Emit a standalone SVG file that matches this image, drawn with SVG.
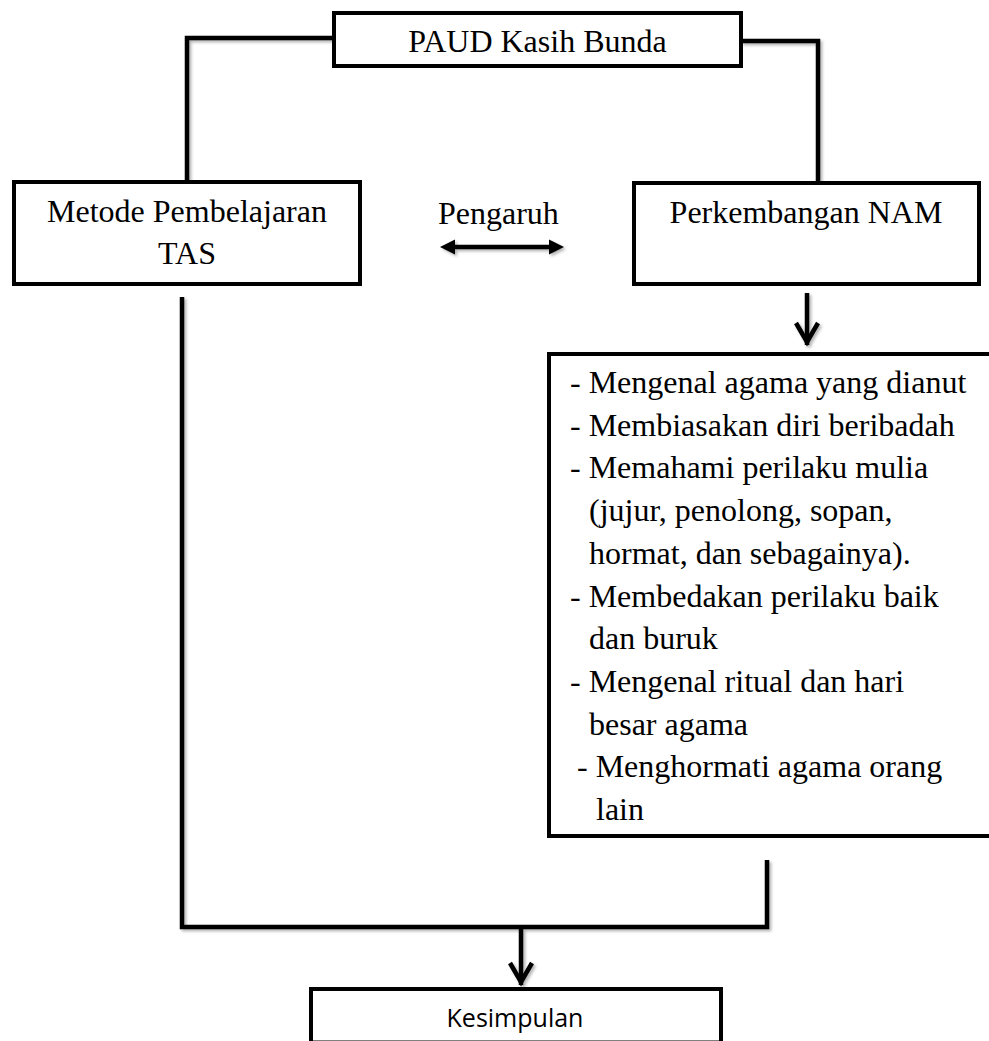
<svg xmlns="http://www.w3.org/2000/svg" width="989" height="1041" viewBox="0 0 989 1041">
<style>
.box{fill:#fff;stroke:#000;stroke-width:4;stroke-linejoin:miter}
.t{font-family:"Liberation Serif","Times New Roman",serif;font-size:32px;fill:#000}
.c{text-anchor:middle}
.s{font-family:"Open Sans","Liberation Sans",sans-serif;font-size:25px;fill:#000;text-anchor:middle}
.ln{fill:none;stroke:#000;stroke-width:4.5;stroke-linejoin:miter;stroke-linecap:butt}
</style>
<defs>
<filter id="sh" x="-10%" y="-10%" width="120%" height="120%">
<feDropShadow dx="2" dy="2" stdDeviation="1.5" flood-color="#000" flood-opacity="0.3"/>
</filter>
<marker id="chev" markerUnits="userSpaceOnUse" viewBox="-30 -15 35 30" refX="0" refY="0" markerWidth="35" markerHeight="30" orient="auto" overflow="visible">
<path d="M-22,-11 L-3,0 L-22,11" fill="none" stroke="#000" stroke-width="4.5"/>
</marker>
<marker id="tri" markerUnits="userSpaceOnUse" viewBox="-5 -10 20 20" refX="0" refY="0" markerWidth="20" markerHeight="20" orient="auto-start-reverse" overflow="visible">
<path d="M-3,-7.5 L12,0 L-3,7.5 Z" fill="#000"/>
</marker>
</defs>
<rect width="989" height="1041" fill="#fff"/>
<g id="connectors" filter="url(#sh)">
<path class="ln" d="M334,38 H187 V182"/>
<path class="ln" d="M741,41 H818 V183"/>
<path class="ln" d="M182,297 V927 H767 V860"/>
<path class="ln" d="M521,927 V985" marker-end="url(#chev)"/>
<path class="ln" d="M807,293 V345" marker-end="url(#chev)"/>
<path class="ln" d="M452,247 H552" marker-start="url(#tri)" marker-end="url(#tri)"/>
</g>
<g id="node-paud">
<rect class="box" x="334" y="13" width="407" height="53"/>
<text class="t c" x="537.5" y="52">PAUD Kasih Bunda</text>
</g>
<g id="node-metode">
<rect class="box" x="14" y="182" width="346" height="102"/>
<text class="t c" x="187" y="222">Metode Pembelajaran</text>
<text class="t c" x="187" y="264">TAS</text>
</g>
<g id="label-pengaruh">
<text class="t" x="438" y="224">Pengaruh</text>
</g>
<g id="node-nam">
<rect class="box" x="634" y="183" width="345" height="101"/>
<text class="t c" x="806" y="223">Perkembangan NAM</text>
</g>
<g id="node-list">
<rect class="box" x="549" y="354" width="500" height="482"/>
<text class="t" x="570" y="393">- Mengenal agama yang dianut</text>
<text class="t" x="570" y="435.7">- Membiasakan diri beribadah</text>
<text class="t" x="570" y="478.4">- Memahami perilaku mulia</text>
<text class="t" x="589" y="521">(jujur, penolong, sopan,</text>
<text class="t" x="589" y="563.8">hormat, dan sebagainya).</text>
<text class="t" x="570" y="606.5">- Membedakan perilaku baik</text>
<text class="t" x="589" y="649.2">dan buruk</text>
<text class="t" x="570" y="692">- Mengenal ritual dan hari</text>
<text class="t" x="589" y="734.6">besar agama</text>
<text class="t" x="577" y="777.3">- Menghormati agama orang</text>
<text class="t" x="596" y="820">lain</text>
</g>
<g id="node-kesimpulan">
<rect class="box" x="311" y="989" width="410" height="53.5"/>
<text class="s" x="515" y="1027">Kesimpulan</text>
</g>
</svg>
